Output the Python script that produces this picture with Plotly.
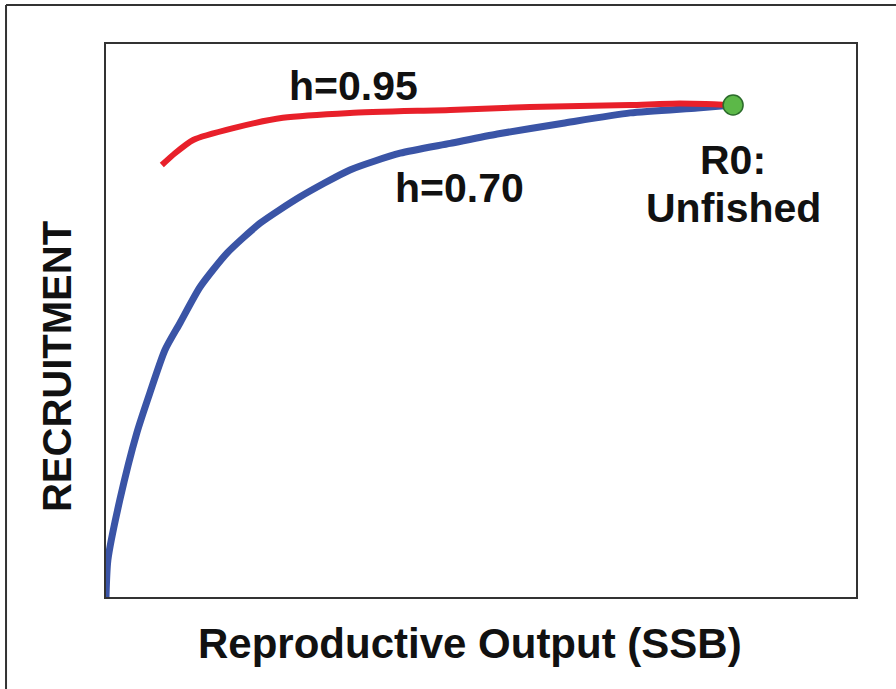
import plotly.graph_objects as go

# Relative spawning output (SSB / SSB0) and relative recruitment (R / R0)
ssb_h070 = [0.0, 0.003, 0.022, 0.049, 0.070, 0.094, 0.118, 0.150, 0.193, 0.246,
            0.309, 0.389, 0.469, 0.549, 0.624, 0.729, 0.836, 0.943, 1.0]
rec_h070 = [0.0, 0.075, 0.197, 0.333, 0.415, 0.502, 0.557, 0.630, 0.699, 0.760,
            0.813, 0.868, 0.902, 0.922, 0.941, 0.963, 0.984, 0.994, 1.0]

ssb_h095 = [0.089, 0.110, 0.139, 0.203, 0.282, 0.389, 0.549, 0.676, 0.836, 0.915, 1.0]
rec_h095 = [0.878, 0.902, 0.929, 0.953, 0.974, 0.984, 0.990, 0.996, 1.0, 1.003, 1.0]

r0_point = (1.0, 1.0)

x_title = "Reproductive Output (SSB)"
y_title = "RECRUITMENT"

font_family = "Liberation Sans, Arial, sans-serif"

fig = go.Figure()
fig.add_trace(go.Scatter(x=ssb_h070, y=rec_h070, mode="lines",
                         line=dict(color="#3a54a6", width=7, shape="spline", smoothing=0.6),
                         hoverinfo="skip", showlegend=False))
fig.add_trace(go.Scatter(x=ssb_h095, y=rec_h095, mode="lines",
                         line=dict(color="#e8202a", width=6, shape="spline", smoothing=0.6),
                         hoverinfo="skip", showlegend=False))
fig.add_trace(go.Scatter(x=[r0_point[0]], y=[r0_point[1]], mode="markers",
                         marker=dict(size=20, color="#5cb848", line=dict(color="#2b6b2b", width=1.5)),
                         hoverinfo="skip", showlegend=False))

txt = dict(family=font_family, size=41, color="#111111")
annots = [
    dict(x=0.394, y=1.039, text="<b>h=0.95</b>"),
    dict(x=0.563, y=0.831, text="<b>h=0.70</b>"),
    dict(x=1.0, y=0.888, text="<b>R0:</b>"),
    dict(x=1.0, y=0.791, text="<b>Unfished</b>"),
]
for a in annots:
    fig.add_annotation(x=a["x"], y=a["y"], text=a["text"], showarrow=False,
                       xref="x", yref="y", font=txt, xanchor="center", yanchor="middle")

# axis titles (placed as in the reference, slightly off-centre)
fig.add_annotation(x=0.4853, y=-0.0832, xref="paper", yref="paper", showarrow=False,
                   text=f"<b>{x_title}</b>", xanchor="center", yanchor="middle",
                   font=dict(family=font_family, size=42, color="#111111"))
fig.add_annotation(x=-0.0653, y=0.4159, xref="paper", yref="paper", showarrow=False,
                   text=f"<b>{y_title}</b>", xanchor="center", yanchor="middle", textangle=-90,
                   font=dict(family=font_family, size=40, color="#111111"))

# outer frame (top and left edges visible)
fig.add_shape(type="line", xref="paper", yref="paper", x0=-0.1333, x1=1.2, y0=1.0705, y1=1.0705,
              line=dict(color="#333333", width=2))
fig.add_shape(type="line", xref="paper", yref="paper", x0=-0.1333, x1=-0.1333, y0=1.0705, y1=-0.3,
              line=dict(color="#333333", width=2))

axis_common = dict(showgrid=False, zeroline=False, showticklabels=False, ticks="",
                   showline=True, linecolor="#333333", linewidth=2, mirror=True)

fig.update_layout(
    width=896, height=689,
    margin=dict(l=106, r=40, t=44, b=92),
    paper_bgcolor="white", plot_bgcolor="white",
    xaxis=dict(range=[0, 1.196], **axis_common),
    yaxis=dict(range=[0, 1.124], **axis_common),
)

fig.write_html("out.html", config={"displayModeBar": False},
               post_script="document.body.style.margin='0';document.body.style.overflow='hidden';")
